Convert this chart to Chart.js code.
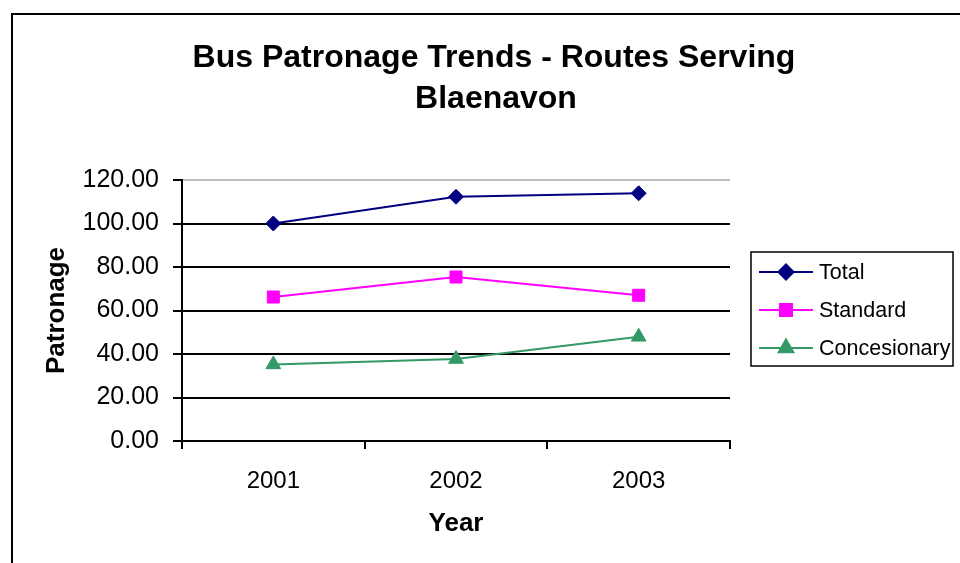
<!DOCTYPE html>
<html>
<head>
<meta charset="utf-8">
<title>Bus Patronage Trends - Routes Serving Blaenavon</title>
<script src="https://cdn.jsdelivr.net/npm/chart.js@4.4.1/dist/chart.umd.min.js"></script>
<style>
    html, body { margin: 0; padding: 0; background: #fff; }
    #wrap { position: relative; width: 960px; height: 563px; }
</style>
</head>
<body>
<div id="wrap"><canvas id="patronageChart"></canvas></div>
<script>
// chart data
const years = ['2001', '2002', '2003'];
const totalValues = [100.0, 112.3, 113.9];
const standardValues = [66.2, 75.4, 67.0];
const concessionaryValues = [35.2, 37.7, 47.9];
const yTicks = [0, 20, 40, 60, 80, 100, 120];

const FONT = '"Liberation Sans", Arial, sans-serif';
const titleLines = ['Bus Patronage Trends - Routes Serving', 'Blaenavon'];

// frame, title and boxed legend are painted by hand
const decorPlugin = {
    id: 'decor',
    beforeDraw(chart) {
        const ctx = chart.ctx;
        ctx.save();
        ctx.strokeStyle = '#000';
        ctx.lineWidth = 2;
        ctx.beginPath();
        ctx.moveTo(12, 563);
        ctx.lineTo(12, 14);
        ctx.lineTo(960, 14);
        ctx.stroke();
        ctx.restore();
    },
    afterDraw(chart) {
        const ctx = chart.ctx;
        ctx.save();
        ctx.fillStyle = '#000';
        ctx.textAlign = 'center';
        ctx.textBaseline = 'alphabetic';
        ctx.font = 'bold 32px ' + FONT;
        ctx.fillText(titleLines[0], 494, 67);
        ctx.fillText(titleLines[1], 496, 108);

        // legend box
        ctx.strokeStyle = '#000';
        ctx.lineWidth = 1.5;
        ctx.strokeRect(751, 252, 202, 114);
        ctx.font = '21.5px ' + FONT;
        ctx.textAlign = 'left';
        ctx.textBaseline = 'middle';
        chart.data.datasets.forEach((ds, i) => {
            const y = 272 + i * 38;
            ctx.strokeStyle = ds.borderColor;
            ctx.lineWidth = 2;
            ctx.beginPath();
            ctx.moveTo(759, y);
            ctx.lineTo(813, y);
            ctx.stroke();
            ctx.fillStyle = ds.borderColor;
            ctx.strokeStyle = ds.borderColor;
            Chart.helpers.drawPoint(ctx, {
                pointStyle: ds.pointStyle,
                radius: ds.pointRadius,
                borderWidth: 1,
                rotation: 0
            }, 786, y);
            ctx.fillStyle = '#000';
            ctx.fillText(ds.label, 819, y + 1);
        });
        ctx.restore();
    }
};

function makeSeries(label, values, color, style, radius) {
    return {
        label: label,
        data: values,
        borderColor: color,
        backgroundColor: color,
        borderWidth: 2,
        pointStyle: style,
        pointRadius: radius,
        pointHoverRadius: radius,
        pointBackgroundColor: color,
        pointBorderColor: color,
        pointBorderWidth: 1,
        tension: 0
    };
}

const ctx = document.getElementById('patronageChart');
new Chart(ctx, {
    type: 'line',
    data: {
        labels: years,
        datasets: [
            makeSeries('Total', totalValues, '#000080', 'rectRot', 7.5),
            makeSeries('Standard', standardValues, '#ff00ff', 'rect', 8.5),
            makeSeries('Concesionary', concessionaryValues, '#339966', 'triangle', 8.5)
        ]
    },
    options: {
        responsive: true,
        maintainAspectRatio: false,
        animation: false,
        layout: { padding: { top: 180, right: 230, bottom: 0, left: 0 } },
        plugins: {
            legend: { display: false },
            title: { display: false },
            tooltip: { enabled: false }
        },
        scales: {
            x: {
                offset: true,
                afterFit: scale => { scale.height = 122; },
                grid: {
                    offset: true,
                    drawOnChartArea: false,
                    drawTicks: true,
                    tickLength: 8,
                    color: '#000',
                    lineWidth: 2
                },
                border: { color: '#000', width: 2 },
                ticks: {
                    color: '#000',
                    padding: 18,
                    font: { family: FONT, size: 24 }
                },
                title: {
                    display: true,
                    text: 'Year',
                    color: '#000',
                    padding: { top: 0, bottom: 24 },
                    font: { family: FONT, size: 26, weight: 'bold' }
                }
            },
            y: {
                min: yTicks[0],
                max: yTicks[yTicks.length - 1],
                afterFit: scale => { scale.width = 182; },
                afterBuildTicks: scale => { scale.ticks = yTicks.map(v => ({ value: v })); },
                grid: {
                    color: c => (c.tick && c.tick.value === 120 ? '#c0c0c0' : '#000'),
                    tickColor: '#000',
                    lineWidth: 2,
                    tickLength: 9
                },
                border: { color: '#000', width: 2 },
                ticks: {
                    color: '#000',
                    padding: 14,
                    font: { family: FONT, size: 25 },
                    callback: v => Number(v).toFixed(2)
                },
                title: {
                    display: true,
                    text: 'Patronage',
                    color: '#000',
                    padding: { top: 41, bottom: 0 },
                    font: { family: FONT, size: 26, weight: 'bold' }
                }
            }
        }
    },
    plugins: [decorPlugin]
});
</script>
</body>
</html>
